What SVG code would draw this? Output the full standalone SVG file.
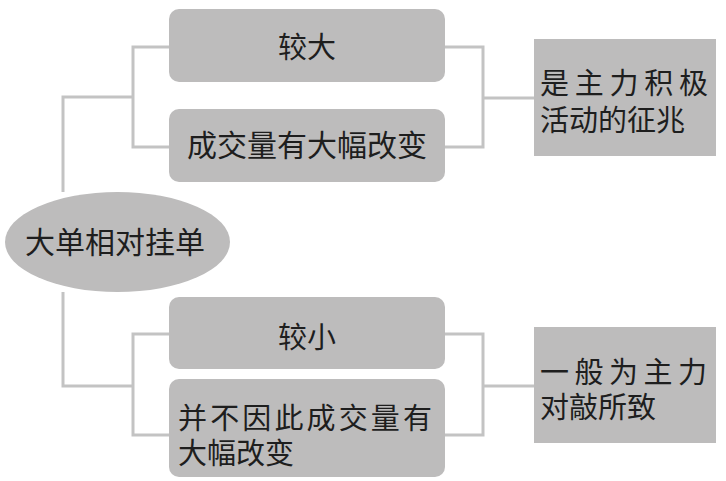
<svg xmlns="http://www.w3.org/2000/svg" width="726" height="481" viewBox="0 0 726 481">
<style>
.box{fill:#bdbcbc}
.ln{fill:none;stroke:#c3c3c3;stroke-width:3}
text{font-family:"Noto Sans CJK SC","Noto Sans CJK JP",sans-serif;font-size:29px;fill:#1e1e1e}
.c{text-anchor:middle}
</style>
<rect width="726" height="481" fill="#ffffff"/>
<g id="connectors">
<path class="ln" d="M63,192 V97 H133 M169,47 H133 V147 H169"/>
<path class="ln" d="M63,292 V386 H133 M169,334 H133 V435 H169"/>
<path class="ln" d="M445,47 H483 V147 H445 M483,98 H534"/>
<path class="ln" d="M445,334 H483 V435 H445 M483,386 H534"/>
</g>
<g id="root">
<ellipse class="box" cx="117.5" cy="242" rx="112.5" ry="50"/>
<text class="c" x="115" y="253" style="font-size:30px">大单相对挂单</text>
</g>
<g id="n-large">
<rect class="box" x="169" y="9" width="276" height="73" rx="10"/>
<text class="c" x="307" y="58">较大</text>
</g>
<g id="n-large-vol">
<rect class="box" x="169" y="109" width="276" height="73" rx="10"/>
<text class="c" x="307" y="156" style="font-size:30px">成交量有大幅改变</text>
</g>
<g id="n-small">
<rect class="box" x="169" y="297" width="276" height="72" rx="10"/>
<text class="c" x="307" y="348">较小</text>
</g>
<g id="n-small-vol">
<rect class="box" x="169" y="379" width="276" height="98" rx="10"/>
<text x="178" y="429" textLength="254" lengthAdjust="spacing">并不因此成交量有</text>
<text x="178" y="464">大幅改变</text>
</g>
<g id="n-active">
<rect class="box" x="534" y="39" width="182" height="117"/>
<text x="540" y="94" textLength="168" lengthAdjust="spacing">是主力积极</text>
<text x="540" y="131">活动的征兆</text>
</g>
<g id="n-wash">
<rect class="box" x="534" y="327" width="182" height="116"/>
<text x="540" y="383" textLength="167" lengthAdjust="spacing">一般为主力</text>
<text x="540" y="418">对敲所致</text>
</g>
</svg>
